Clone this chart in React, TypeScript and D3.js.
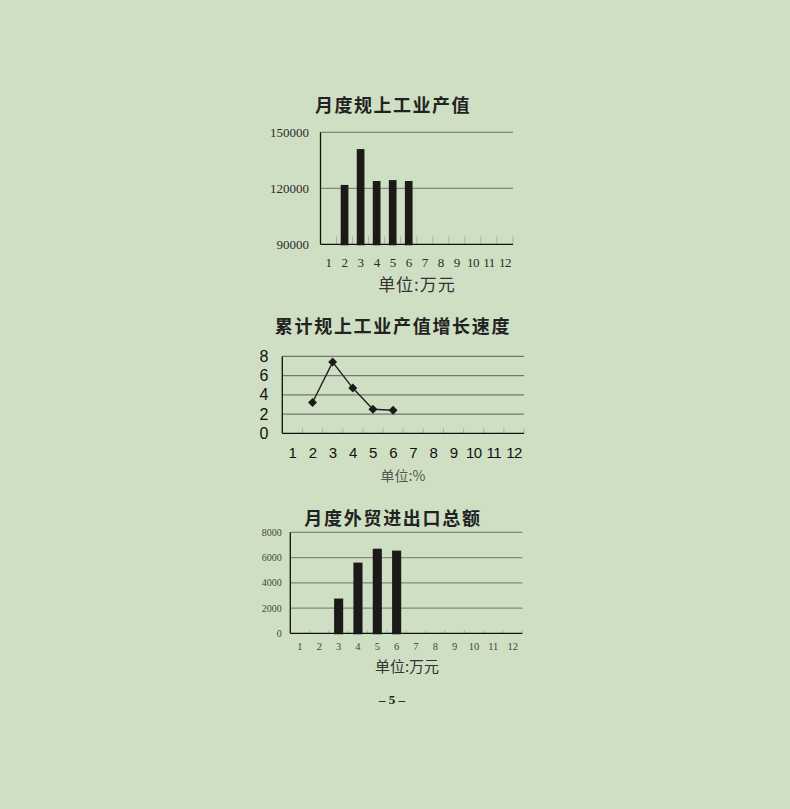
import * as d3 from "d3";
import { useEffect, useRef } from "react";

// months shared by the three charts
const months = ["1", "2", "3", "4", "5", "6", "7", "8", "9", "10", "11", "12"];

// 月度规上工业产值 (万元)
const outputValue = [null, 121800, 141000, 123900, 124400, 123900, null, null, null, null, null, null];
const outputTicks = [90000, 120000, 150000];

// 累计规上工业产值增长速度 (%)
const growthRate = [null, 3.2, 7.4, 4.7, 2.5, 2.4, null, null, null, null, null, null];
const growthTicks = [0, 2, 4, 6, 8];

// 月度外贸进出口总额 (万元)
const tradeValue = [null, null, 2750, 5600, 6700, 6550, null, null, null, null, null, null];
const tradeTicks = [0, 2000, 4000, 6000, 8000];

const SERIF = "'Liberation Serif', 'DejaVu Serif', serif";
const SANS = "'Liberation Sans', Arial, sans-serif";
const CJK = "'Noto Sans CJK SC', sans-serif";

const drawFrame = (g, c) => {
  const x = d3.scaleBand().domain(months).range([c.left, c.right]).padding(0);
  const y = d3.scaleLinear().domain(c.domain).range([c.bottom, c.top]);

  // gridlines (skip the baseline)
  g.append("g")
    .selectAll("line")
    .data(c.ticks.slice(1))
    .enter()
    .append("line")
    .attr("x1", c.left)
    .attr("x2", c.right)
    .attr("y1", (d) => y(d))
    .attr("y2", (d) => y(d))
    .attr("stroke", c.gridColor)
    .attr("stroke-width", 1.2);

  // small ticks on category boundaries
  g.append("g")
    .selectAll("line")
    .data(months)
    .enter()
    .append("line")
    .attr("x1", (d) => x(d) + x.step())
    .attr("x2", (d) => x(d) + x.step())
    .attr("y1", c.bottom)
    .attr("y2", c.bottom - c.tickLen)
    .attr("stroke", "#a9b2a6")
    .attr("stroke-width", 1);

  // axes
  g.append("line")
    .attr("x1", c.left)
    .attr("x2", c.left)
    .attr("y1", c.top)
    .attr("y2", c.bottom)
    .attr("stroke", "#111")
    .attr("stroke-width", 1.3);
  g.append("line")
    .attr("x1", c.left)
    .attr("x2", c.right)
    .attr("y1", c.bottom)
    .attr("y2", c.bottom)
    .attr("stroke", "#111")
    .attr("stroke-width", 1.3);

  // y labels
  g.append("g")
    .selectAll("text")
    .data(c.ticks)
    .enter()
    .append("text")
    .attr("x", c.left - c.yGap)
    .attr("y", (d) => y(d))
    .attr("dy", "0.35em")
    .attr("text-anchor", "end")
    .attr("font-family", c.font)
    .attr("font-size", c.ySize)
    .attr("fill", c.labelColor)
    .text((d) => d);

  // x labels
  g.append("g")
    .selectAll("text")
    .data(months)
    .enter()
    .append("text")
    .attr("x", (d) => x(d) + x.step() / 2)
    .attr("y", c.xLabelY)
    .attr("dy", "0.35em")
    .attr("text-anchor", "middle")
    .attr("font-family", c.font)
    .attr("font-size", c.xSize)
    .attr("letter-spacing", c.xSpacing || 0)
    .attr("fill", c.labelColor)
    .text((d) => d);

  return { x, y };
};

const addText = (g, t, x, y, size, opts = {}) =>
  g
    .append("text")
    .attr("x", x)
    .attr("y", y)
    .attr("dy", "0.35em")
    .attr("text-anchor", "middle")
    .attr("font-family", opts.font || CJK)
    .attr("font-size", size)
    .attr("font-weight", opts.weight || "normal")
    .attr("letter-spacing", opts.spacing || 0)
    .attr("fill", opts.color || "#222")
    .text(t);

const drawBars = (g, x, y, values, ratio, bottom) => {
  const w = x.step() * ratio;
  g.append("g")
    .selectAll("rect")
    .data(months.map((m, i) => ({ m, v: values[i] })).filter((d) => d.v != null))
    .enter()
    .append("rect")
    .attr("x", (d) => x(d.m) + x.step() / 2 - w / 2)
    .attr("width", w)
    .attr("y", (d) => y(d.v))
    .attr("height", (d) => bottom + 1 - y(d.v))
    .attr("fill", "#1b1a18");
};

export default function App() {
  const ref = useRef(null);

  useEffect(() => {
    document.body.style.margin = "0";
    document.body.style.background = "#cfdfc3";
    const svg = d3.select(ref.current);
    svg.selectAll("*").remove();

    svg.append("rect").attr("width", 790).attr("height", 809).attr("fill", "#cfdfc3");

    // chart 1
    const g1 = svg.append("g");
    const c1 = {
      left: 320.5, right: 513, top: 132.3, bottom: 244.3,
      domain: [90000, 150000], ticks: outputTicks, gridColor: "#7f8a7d",
      tickLen: 8, yGap: 11.5, ySize: 13, xSize: 13, xLabelY: 262,
      font: SERIF, labelColor: "#2a2a2a", xSpacing: -0.5,
    };
    const s1 = drawFrame(g1, c1);
    drawBars(g1, s1.x, s1.y, outputValue, 0.48, c1.bottom);
    addText(g1, "月度规上工业产值", 393, 106, 18, { weight: "bold", spacing: 1.5 });
    addText(g1, "单位:万元", 417, 285, 17, { color: "#333", spacing: 1 });

    // chart 2
    const g2 = svg.append("g");
    const c2 = {
      left: 282.3, right: 524, top: 356.3, bottom: 433.3,
      domain: [0, 8], ticks: growthTicks, gridColor: "#6f786c",
      tickLen: 5, yGap: 14, ySize: 16, xSize: 15, xLabelY: 452.7,
      font: SANS, labelColor: "#111", xSpacing: -0.6,
    };
    const s2 = drawFrame(g2, c2);
    const pts = months
      .map((m, i) => ({ m, v: growthRate[i] }))
      .filter((d) => d.v != null);
    const line = d3
      .line()
      .x((d) => s2.x(d.m) + s2.x.step() / 2)
      .y((d) => s2.y(d.v));
    g2.append("path")
      .attr("d", line(pts))
      .attr("fill", "none")
      .attr("stroke", "#222")
      .attr("stroke-width", 1.4);
    const diamond = d3.symbol().type(d3.symbolSquare).size(40);
    g2.append("g")
      .selectAll("path")
      .data(pts)
      .enter()
      .append("path")
      .attr("d", diamond())
      .attr(
        "transform",
        (d) => `translate(${s2.x(d.m) + s2.x.step() / 2},${s2.y(d.v)}) rotate(45)`
      )
      .attr("fill", "#1b1a18");
    addText(g2, "累计规上工业产值增长速度", 393, 327, 18, { weight: "bold", spacing: 1.7 });
    addText(g2, "单位:%", 403, 476, 14, { color: "#555" });

    // chart 3
    const g3 = svg.append("g");
    const c3 = {
      left: 290.3, right: 522.3, top: 532.3, bottom: 633.3,
      domain: [0, 8000], ticks: tradeTicks, gridColor: "#7f8a7d",
      tickLen: 3, yGap: 8.6, ySize: 10, xSize: 10.5, xLabelY: 646,
      font: SERIF, labelColor: "#444",
    };
    const s3 = drawFrame(g3, c3);
    drawBars(g3, s3.x, s3.y, tradeValue, 0.47, c3.bottom);
    addText(g3, "月度外贸进出口总额", 393, 519, 18, { weight: "bold", spacing: 1.7 });
    addText(g3, "单位:万元", 407, 667, 15, { color: "#333" });
    addText(g3, "– 5 –", 392, 699, 13, { font: SERIF, weight: "bold", color: "#222" });
  }, []);

  return <svg ref={ref} width={790} height={809} style={{ display: "block" }}></svg>;
}
